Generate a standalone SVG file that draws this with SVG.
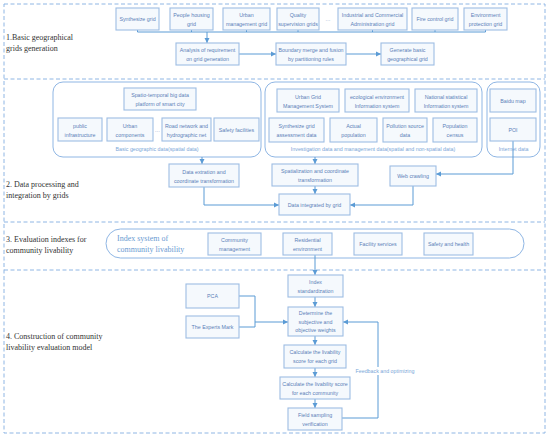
<svg xmlns="http://www.w3.org/2000/svg" width="550" height="441" viewBox="0 0 550 441">
<style>
.sec{fill:none;stroke:#8fb6e4;stroke-width:1;stroke-dasharray:4,2.5}
.box{fill:#f5f9fd;stroke:#9dbde3;stroke-width:1.1}
.cont{fill:#ffffff;stroke:#8fb6e4;stroke-width:1}
.t{font-family:"Liberation Sans",Arial,sans-serif;font-size:5.3px;fill:#5b7fb8;text-anchor:middle}
.lbl{font-family:"Liberation Sans",Arial,sans-serif;font-size:5.3px;fill:#7aa6d8;text-anchor:middle}
.st{font-family:"Liberation Serif","Times New Roman",serif;font-size:8px;fill:#333333}
.idx{font-family:"Liberation Serif","Times New Roman",serif;font-size:8px;fill:#6b9bd2}
.c{fill:none;stroke:#5b9bd5;stroke-width:1}
.a{fill:none;stroke:#5b9bd5;stroke-width:1;marker-end:url(#arr)}
</style>
<defs>
<marker id="arr" markerUnits="userSpaceOnUse" markerWidth="6" markerHeight="6" refX="5" refY="3" orient="auto">
<path d="M0,0.5 L5,3 L0,5.5 Z" fill="#5b9bd5"/>
</marker>
</defs>
<rect width="550" height="441" fill="#ffffff"/>

<g id="sections">
<rect class="sec" x="4" y="4" width="541" height="429"/>
<line class="sec" x1="4" y1="79" x2="545" y2="79"/>
<line class="sec" x1="4" y1="222" x2="545" y2="222"/>
<line class="sec" x1="4" y1="270" x2="545" y2="270"/>
<text class="st" x="6" y="40">1.Basic geographical</text>
<text class="st" x="6" y="51">grids generation</text>
<text class="st" x="6" y="187">2. Data  processing and</text>
<text class="st" x="6" y="198">integration by grids</text>
<text class="st" x="6" y="242">3. Evaluation indexes for</text>
<text class="st" x="6" y="253">community livability</text>
<text class="st" x="6" y="339">4. Construction of community</text>
<text class="st" x="6" y="350">livability evaluation model</text>
</g>

<g id="containers">
<rect class="cont" x="53" y="82" width="208" height="75" rx="10"/>
<text class="lbl" x="157" y="151">Basic geographic data(spatial data)</text>
<rect class="cont" x="265" y="82" width="217" height="75" rx="10"/>
<text class="lbl" x="373" y="151">Investigation data and management data(spatial and non-spatial data)</text>
<rect class="cont" x="487" y="82" width="53" height="75" rx="10"/>
<rect class="cont" x="106" y="229" width="418" height="29" rx="14.5"/>
<text class="idx" x="117" y="241">Index system of</text>
<text class="idx" x="117" y="252">community livability</text>
</g>

<g id="connectors">
<path class="c" d="M137.5,30 V32 M191.5,30 V32 M246.5,30 V32 M298,30 V32 M372.5,30 V32 M435,30 V32 M485.5,30 V32 M137.5,32 H485.5"/>
<path class="a" d="M207,32 V43"/>
<path class="a" d="M239,54 H276"/>
<path class="a" d="M346,54 H381"/>
<path class="a" d="M202,157 V164"/>
<path class="a" d="M315,157 V164"/>
<path class="a" d="M513,141 V174 H436"/>
<path class="a" d="M315,186 V194"/>
<path class="a" d="M204,187 V205 H279"/>
<path class="a" d="M413,186 V205 H350"/>
<path class="a" d="M315,255 V275"/>
<path class="a" d="M315,297 V307"/>
<path class="c" d="M239,296 H255 V327 H239"/>
<path class="a" d="M255,322 H288"/>
<path class="a" d="M315,336 V345"/>
<path class="a" d="M315,368 V377"/>
<path class="a" d="M315,399 V408"/>
<path class="a" d="M342,418 H378 V322 H343"/>
<rect x="355" y="367" width="60" height="8" fill="#ffffff"/>
<text class="lbl" x="385" y="373">Feedback and optimizing</text>
</g>

<g id="n-syn"><rect class="box" x="116" y="8" width="43" height="22"/><text class="t" x="137.5" y="21">Synthesize grid</text></g>
<g id="n-people"><rect class="box" x="170" y="8" width="43" height="22"/><text class="t" x="191.5" y="17">People housing</text><text class="t" x="191.5" y="26">grid</text></g>
<g id="n-urban"><rect class="box" x="223" y="8" width="47" height="22"/><text class="t" x="246.5" y="17">Urban</text><text class="t" x="246.5" y="26">management grid</text></g>
<g id="n-quality"><rect class="box" x="277" y="8" width="42" height="22"/><text class="t" x="298" y="17">Quality</text><text class="t" x="298" y="26">supervision grids</text></g>
<text class="t" x="328" y="21">…</text>
<g id="n-industrial"><rect class="box" x="338" y="8" width="69" height="22"/><text class="t" x="372.5" y="17">Industrial and Commercial</text><text class="t" x="372.5" y="26">Administration grid</text></g>
<g id="n-fire"><rect class="box" x="412" y="8" width="46" height="22"/><text class="t" x="435" y="21">Fire control grid</text></g>
<g id="n-env"><rect class="box" x="464" y="8" width="43" height="22"/><text class="t" x="485.5" y="17">Environment</text><text class="t" x="485.5" y="26">protection grid</text></g>
<g id="n-analysis"><rect class="box" x="176" y="43" width="63" height="22"/><text class="t" x="207.5" y="52">Analysis of requirement</text><text class="t" x="207.5" y="61">on grid generation</text></g>
<g id="n-boundary"><rect class="box" x="276" y="43" width="70" height="22"/><text class="t" x="311" y="52">Boundary merge and fusion</text><text class="t" x="311" y="61">by partitioning rules</text></g>
<g id="n-generate"><rect class="box" x="381" y="43" width="53" height="22"/><text class="t" x="407.5" y="52">Generate basic</text><text class="t" x="407.5" y="61">geographical grid</text></g>

<g id="n-spatio"><rect class="box" x="124" y="88" width="72" height="22"/><text class="t" x="160" y="97">Spatio-temporal big data</text><text class="t" x="160" y="106">platform of smart city</text></g>
<g id="n-public"><rect class="box" x="58" y="118" width="44" height="23"/><text class="t" x="80" y="127.5">public</text><text class="t" x="80" y="136.5">infrastructure</text></g>
<g id="n-urbancomp"><rect class="box" x="107" y="118" width="46" height="23"/><text class="t" x="130" y="127.5">Urban</text><text class="t" x="130" y="136.5">components</text></g>
<text class="t" x="157.5" y="132">…</text>
<g id="n-road"><rect class="box" x="162" y="118" width="49" height="23"/><text class="t" x="186.5" y="127.5">Road network and</text><text class="t" x="186.5" y="136.5">hydrographic net</text></g>
<g id="n-safety"><rect class="box" x="214" y="118" width="45" height="23"/><text class="t" x="236.5" y="131.5">Safety facilities</text></g>
<g id="n-ugms"><rect class="box" x="277" y="89" width="62" height="23"/><text class="t" x="308" y="98.5">Urban Grid</text><text class="t" x="308" y="107.5">Management System</text></g>
<g id="n-eco"><rect class="box" x="345" y="89" width="64" height="23"/><text class="t" x="377" y="98.5">ecological environment</text><text class="t" x="377" y="107.5">Information system</text></g>
<g id="n-nat"><rect class="box" x="415" y="89" width="62" height="23"/><text class="t" x="446" y="98.5">National statistical</text><text class="t" x="446" y="107.5">Information system</text></g>
<g id="n-synassess"><rect class="box" x="269" y="118" width="55" height="24"/><text class="t" x="296.5" y="128">Synthesize grid</text><text class="t" x="296.5" y="137">assessment data</text></g>
<g id="n-actual"><rect class="box" x="330" y="118" width="47" height="24"/><text class="t" x="353.5" y="128">Actual</text><text class="t" x="353.5" y="137">population</text></g>
<g id="n-pollution"><rect class="box" x="383" y="118" width="44" height="24"/><text class="t" x="405" y="128">Pollution source</text><text class="t" x="405" y="137">data</text></g>
<g id="n-census"><rect class="box" x="433" y="118" width="44" height="24"/><text class="t" x="455" y="128">Population</text><text class="t" x="455" y="137">census</text></g>
<g id="n-baidu"><rect class="box" x="490" y="89" width="46" height="23"/><text class="t" x="513" y="102.5">Baidu map</text></g>
<g id="n-poi"><rect class="box" x="490" y="118" width="46" height="23"/><text class="t" x="513" y="131.5">POI</text></g>
<text class="lbl" x="513.5" y="151">Internet data</text>
<g id="n-dataext"><rect class="box" x="169" y="164" width="70" height="23"/><text class="t" x="204" y="173.5">Data extration and</text><text class="t" x="204" y="182.5">coordinate transformation</text></g>
<g id="n-spatial"><rect class="box" x="272" y="164" width="86" height="22"/><text class="t" x="315" y="173">Spatialization and coordinate</text><text class="t" x="315" y="182">transformation</text></g>
<g id="n-web"><rect class="box" x="390" y="166" width="46" height="20"/><text class="t" x="413" y="178">Web crawling</text></g>
<g id="n-integrated"><rect class="box" x="279" y="194" width="71" height="21"/><text class="t" x="314.5" y="206.5">Data integrated by grid</text></g>

<g id="n-community"><rect class="box" x="208" y="233" width="53" height="22"/><text class="t" x="234.5" y="242">Community</text><text class="t" x="234.5" y="251">management</text></g>
<g id="n-residential"><rect class="box" x="283" y="233" width="49" height="22"/><text class="t" x="307.5" y="242">Residential</text><text class="t" x="307.5" y="251">environment</text></g>
<g id="n-facility"><rect class="box" x="354" y="233" width="48" height="22"/><text class="t" x="378" y="246">Facility services</text></g>
<g id="n-safetyh"><rect class="box" x="424" y="233" width="49" height="22"/><text class="t" x="448.5" y="246">Safety and health</text></g>

<g id="n-index"><rect class="box" x="288" y="275" width="55" height="22"/><text class="t" x="315.5" y="284">Index</text><text class="t" x="315.5" y="293">standardization</text></g>
<g id="n-determine"><rect class="box" x="288" y="307" width="55" height="29"/><text class="t" x="315.5" y="315">Determine the</text><text class="t" x="315.5" y="323.5">subjective and</text><text class="t" x="315.5" y="332">objective weights</text></g>
<g id="n-pca"><rect class="box" x="186" y="284" width="53" height="24"/><text class="t" x="212.5" y="298">PCA</text></g>
<g id="n-experts"><rect class="box" x="186" y="316" width="53" height="22"/><text class="t" x="212.5" y="329">The Experts Mark</text></g>
<g id="n-calcgrid"><rect class="box" x="284" y="345" width="62" height="23"/><text class="t" x="315" y="354">Calculate the livability</text><text class="t" x="315" y="363">score for each grid</text></g>
<g id="n-calccomm"><rect class="box" x="280" y="377" width="70" height="22"/><text class="t" x="315" y="386">Calculate the livability score</text><text class="t" x="315" y="395">for each community</text></g>
<g id="n-field"><rect class="box" x="288" y="408" width="54" height="22"/><text class="t" x="315" y="417">Field sampling</text><text class="t" x="315" y="426">verification</text></g>
</svg>
